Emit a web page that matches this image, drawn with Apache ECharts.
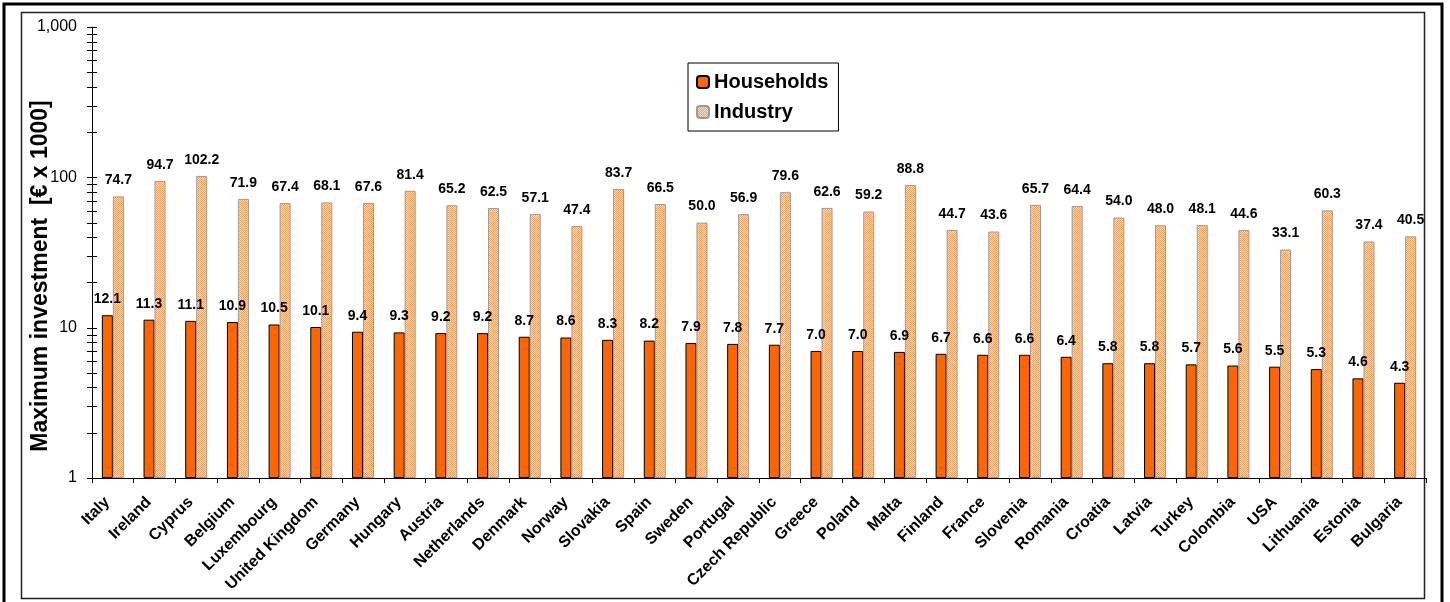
<!DOCTYPE html>
<html>
<head>
<meta charset="utf-8">
<style>
  html, body { margin: 0; padding: 0; background: #fff; }
  #chart { width: 1450px; height: 602px; }
</style>
<script src="https://cdn.jsdelivr.net/npm/echarts@6/dist/echarts.min.js"></script>
</head>
<body>
<div id="chart"></div>
<script>
// Maximum subsidised investment per country, thousands of euro
const countries = ['Italy', 'Ireland', 'Cyprus', 'Belgium', 'Luxembourg', 'United Kingdom', 'Germany', 'Hungary',
  'Austria', 'Netherlands', 'Denmark', 'Norway', 'Slovakia', 'Spain', 'Sweden', 'Portugal', 'Czech Republic',
  'Greece', 'Poland', 'Malta', 'Finland', 'France', 'Slovenia', 'Romania', 'Croatia', 'Latvia', 'Turkey',
  'Colombia', 'USA', 'Lithuania', 'Estonia', 'Bulgaria'];

const households = [12.1, 11.3, 11.1, 10.9, 10.5, 10.1, 9.4, 9.3, 9.2, 9.2, 8.7, 8.6, 8.3, 8.2, 7.9, 7.8, 7.7,
  7.0, 7.0, 6.9, 6.7, 6.6, 6.6, 6.4, 5.8, 5.8, 5.7, 5.6, 5.5, 5.3, 4.6, 4.3];

const industry = [74.7, 94.7, 102.2, 71.9, 67.4, 68.1, 67.6, 81.4, 65.2, 62.5, 57.1, 47.4, 83.7, 66.5, 50.0,
  56.9, 79.6, 62.6, 59.2, 88.8, 44.7, 43.6, 65.7, 64.4, 54.0, 48.0, 48.1, 44.6, 33.1, 60.3, 37.4, 40.5];

// Log-axis tick marks: decades plus 2..9 within each decade
const yTicks = [1, 2, 3, 4, 5, 6, 7, 8, 9, 10, 20, 30, 40, 50, 60, 70, 80, 90,
  100, 200, 300, 400, 500, 600, 700, 800, 900, 1000];

const yTitle = 'Maximum investment  [€ x 1000]';

// Fine light-orange hatch used for the industry bars
function hatchPattern() {
  const c = document.createElement('canvas');
  c.width = 4; c.height = 4;
  const g = c.getContext('2d');
  g.fillStyle = '#FFDCC0';
  g.fillRect(0, 0, 4, 4);
  g.fillStyle = '#F4A062';
  for (let i = 0; i < 4; i++) {
    g.fillRect(i, i, 1, 1);
    g.fillRect((i + 2) % 4, i, 1, 1);
  }
  return { image: c, repeat: 'repeat' };
}

const FONT = 'Arial, "Liberation Sans", sans-serif';
const chart = echarts.init(document.getElementById('chart'), null, { renderer: 'canvas' });

const labelStyle = {
  show: true,
  position: 'top',
  distance: 9,
  fontFamily: FONT,
  fontWeight: 'bold',
  fontSize: 14,
  color: '#000',
  formatter: p => p.value.toFixed(1)
};

chart.setOption({
  backgroundColor: '#fff',
  animation: false,
  graphic: [
    { type: 'rect', shape: { x: 4, y: 4, width: 1438, height: 610 },
      style: { fill: 'none', stroke: '#000', lineWidth: 3 }, z: -1 },
    { type: 'rect', shape: { x: 21.5, y: 12.5, width: 1403, height: 586 },
      style: { fill: 'none', stroke: '#222', lineWidth: 1.5 }, z: -1 },
    { type: 'text', x: 41, y: 276, rotation: Math.PI / 2,
      style: { text: yTitle, fontFamily: FONT, fontWeight: 'bold', fontSize: 23, fill: '#000',
        align: 'center', verticalAlign: 'middle' } }
  ],
  legend: {
    orient: 'vertical',
    left: 688,
    top: 63,
    padding: [9, 10, 9, 8],
    itemWidth: 12,
    itemHeight: 12,
    itemGap: 10,
    borderColor: '#000',
    borderWidth: 1,
    data: ['Households', 'Industry'],
    textStyle: { fontFamily: FONT, fontWeight: 'bold', fontSize: 20, color: '#000' }
  },
  grid: { left: 92, top: 27, width: 1334, height: 451, containLabel: false, outerBoundsMode: 'none' },
  xAxis: {
    type: 'category',
    data: countries,
    boundaryGap: true,
    axisLine: { lineStyle: { color: '#000', width: 1 } },
    axisTick: { show: true, length: 5, alignWithLabel: false, lineStyle: { color: '#000' } },
    axisLabel: {
      interval: 0,
      rotate: 45,
      margin: 16,
      padding: [0, 8, 0, 0],
      fontFamily: FONT,
      fontWeight: 'bold',
      fontSize: 16,
      color: '#000'
    },
    splitLine: { show: false }
  },
  yAxis: {
    type: 'log',
    logBase: 10,
    min: 1,
    max: 1000,
    axisLine: { show: true, lineStyle: { color: '#000', width: 1 } },
    axisTick: { show: false },
    axisLabel: {
      margin: 15,
      fontFamily: FONT,
      fontSize: 16,
      color: '#000',
      formatter: v => v.toLocaleString('en-US')
    },
    splitLine: { show: false }
  },
  series: [
    {
      name: 'Households',
      type: 'bar',
      data: households,
      barWidth: 11,
      barGap: '0%',
      itemStyle: { color: '#FF6600', borderColor: '#000', borderWidth: 1 },
      label: labelStyle
    },
    {
      name: 'Industry',
      type: 'bar',
      data: industry,
      barWidth: 11,
      itemStyle: { color: hatchPattern(), borderColor: '#9A9A9A', borderWidth: 1 },
      label: labelStyle
    },
    {
      // crossing tick marks on the value axis
      name: 'yTicks',
      type: 'custom',
      clip: false,
      silent: true,
      z: 5,
      data: yTicks.map(v => [0, v]),
      renderItem: (params, api) => {
        const y = Math.round(api.coord([0, api.value(1)])[1]) + 0.5;
        const x = params.coordSys.x;
        return {
          type: 'line',
          shape: { x1: x - 5, y1: y, x2: x + 5, y2: y },
          style: { stroke: '#000', lineWidth: 1 }
        };
      }
    }
  ]
});
</script>
</body>
</html>
